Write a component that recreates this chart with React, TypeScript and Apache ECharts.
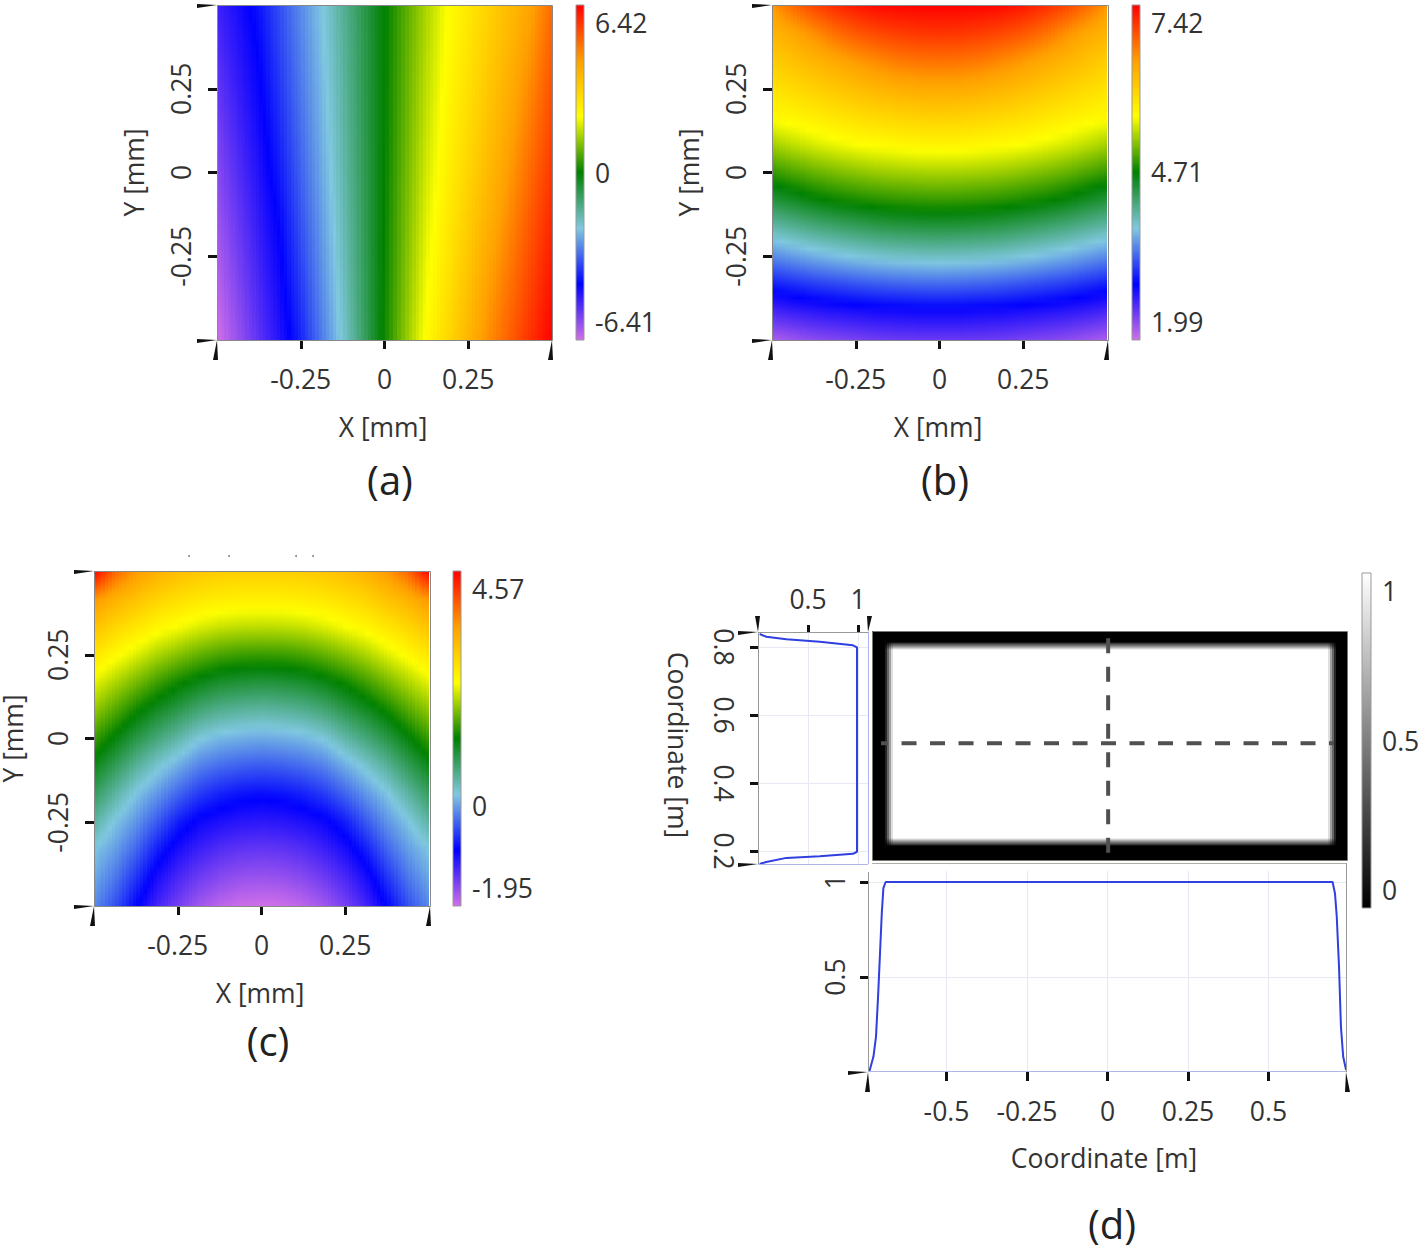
import React, { useEffect, useRef } from "react";
import * as echarts from "echarts";

const FONT = "Open Sans";
const TEXT = "#333333";

const rainbowStops = ["#d070e8", "#0000ff", "#80c8e0", "#008000", "#ffff00", "#ffa000", "#ff0000"];
const greyStops = ["#000000", "#ffffff"];

const tickLabelsAB = [-0.25, 0, 0.25];

// Panel (a): values (rows top to bottom, columns left to right)
const aX = [-0.5, -0.4375, -0.375, -0.3125, -0.25, -0.1875, -0.125, -0.0625, 0, 0.0625, 0.125, 0.1875, 0.25, 0.3125, 0.375, 0.4375, 0.5];
const aY = [0.5, 0.375, 0.25, 0.125, 0, -0.125, -0.25, -0.375, -0.5];
const aValues = [
  [-4.9, -4.52, -4.06, -3.42, -2.78, -2.14, -1.43, -0.71, 0, 0.72, 1.45, 2.14, 2.66, 3.17, 3.69, 4.21, 5.0],
  [-5.09, -4.66, -4.21, -3.54, -2.88, -2.21, -1.48, -0.73, 0.01, 0.77, 1.52, 2.21, 2.75, 3.29, 3.83, 4.42, 5.18],
  [-5.28, -4.81, -4.34, -3.68, -2.98, -2.29, -1.53, -0.75, 0.03, 0.81, 1.6, 2.29, 2.86, 3.43, 4.0, 4.64, 5.36],
  [-5.47, -4.97, -4.46, -3.82, -3.1, -2.37, -1.59, -0.77, 0.04, 0.86, 1.68, 2.38, 2.97, 3.57, 4.17, 4.84, 5.53],
  [-5.66, -5.13, -4.6, -3.98, -3.22, -2.46, -1.65, -0.79, 0.06, 0.92, 1.77, 2.47, 3.1, 3.74, 4.38, 5.04, 5.71],
  [-5.84, -5.29, -4.74, -4.16, -3.36, -2.57, -1.72, -0.82, 0.08, 0.98, 1.87, 2.58, 3.25, 3.92, 4.58, 5.24, 5.89],
  [-6.03, -5.46, -4.89, -4.32, -3.51, -2.68, -1.8, -0.85, 0.1, 1.04, 1.98, 2.7, 3.41, 4.13, 4.78, 5.43, 6.07],
  [-6.22, -5.63, -5.05, -4.46, -3.68, -2.8, -1.89, -0.88, 0.12, 1.11, 2.1, 2.84, 3.6, 4.35, 4.98, 5.61, 6.24],
  [-6.41, -5.81, -5.21, -4.61, -3.87, -2.94, -1.99, -0.92, 0.15, 1.19, 2.22, 3.0, 3.81, 4.55, 5.17, 5.8, 6.42],
];

// Panels (b) and (c) share these sampling positions
const bcX = aX;
const bcY = [0.5, 0.4167, 0.3333, 0.25, 0.1667, 0.0833, 0, -0.0833, -0.1667, -0.25, -0.3333, -0.4167, -0.5];
const bValues = [
  [6.57, 6.84, 7.04, 7.19, 7.3, 7.38, 7.4, 7.41, 7.42, 7.41, 7.4, 7.38, 7.3, 7.19, 7.04, 6.84, 6.57],
  [6.32, 6.45, 6.62, 6.8, 6.93, 7.02, 7.08, 7.12, 7.13, 7.12, 7.08, 7.02, 6.93, 6.8, 6.62, 6.45, 6.32],
  [6.09, 6.2, 6.32, 6.43, 6.55, 6.65, 6.73, 6.77, 6.78, 6.77, 6.73, 6.65, 6.55, 6.43, 6.32, 6.2, 6.09],
  [5.87, 5.96, 6.05, 6.14, 6.23, 6.31, 6.37, 6.41, 6.42, 6.41, 6.37, 6.31, 6.23, 6.14, 6.05, 5.96, 5.87],
  [5.65, 5.71, 5.78, 5.85, 5.92, 5.98, 6.02, 6.05, 6.06, 6.05, 6.02, 5.98, 5.92, 5.85, 5.78, 5.71, 5.65],
  [5.28, 5.38, 5.47, 5.54, 5.6, 5.64, 5.67, 5.7, 5.7, 5.7, 5.67, 5.64, 5.6, 5.54, 5.47, 5.38, 5.28],
  [4.88, 4.97, 5.06, 5.13, 5.19, 5.24, 5.27, 5.29, 5.3, 5.29, 5.27, 5.24, 5.19, 5.13, 5.06, 4.97, 4.88],
  [4.46, 4.56, 4.66, 4.74, 4.79, 4.84, 4.87, 4.89, 4.9, 4.89, 4.87, 4.84, 4.79, 4.74, 4.66, 4.56, 4.46],
  [4.0, 4.09, 4.18, 4.25, 4.31, 4.37, 4.4, 4.42, 4.43, 4.42, 4.4, 4.37, 4.31, 4.25, 4.18, 4.09, 4.0],
  [3.52, 3.61, 3.69, 3.76, 3.82, 3.87, 3.9, 3.92, 3.93, 3.92, 3.9, 3.87, 3.82, 3.76, 3.69, 3.61, 3.52],
  [3.03, 3.1, 3.17, 3.22, 3.27, 3.31, 3.34, 3.36, 3.37, 3.36, 3.34, 3.31, 3.27, 3.22, 3.17, 3.1, 3.03],
  [2.58, 2.65, 2.7, 2.74, 2.77, 2.8, 2.81, 2.83, 2.83, 2.83, 2.81, 2.8, 2.77, 2.74, 2.7, 2.65, 2.58],
  [2.15, 2.22, 2.29, 2.33, 2.37, 2.41, 2.43, 2.44, 2.44, 2.44, 2.43, 2.41, 2.37, 2.33, 2.29, 2.22, 2.15],
];
const cValues = [
  [4.57, 3.89, 3.53, 3.3, 3.15, 3.05, 2.98, 2.95, 2.94, 2.95, 2.98, 3.05, 3.15, 3.3, 3.53, 3.89, 4.57],
  [3.56, 3.29, 3.1, 2.9, 2.77, 2.67, 2.61, 2.58, 2.58, 2.58, 2.61, 2.67, 2.77, 2.9, 3.1, 3.29, 3.56],
  [3.1, 2.87, 2.68, 2.5, 2.38, 2.25, 2.16, 2.12, 2.11, 2.12, 2.16, 2.25, 2.38, 2.5, 2.68, 2.87, 3.1],
  [2.68, 2.46, 2.25, 2.04, 1.87, 1.72, 1.61, 1.55, 1.54, 1.55, 1.61, 1.72, 1.87, 2.04, 2.25, 2.46, 2.68],
  [2.28, 2.04, 1.8, 1.56, 1.36, 1.2, 1.08, 1.03, 1.0, 1.03, 1.08, 1.2, 1.36, 1.56, 1.8, 2.04, 2.28],
  [1.92, 1.65, 1.36, 1.13, 0.93, 0.73, 0.6, 0.54, 0.51, 0.54, 0.6, 0.73, 0.93, 1.13, 1.36, 1.65, 1.92],
  [1.55, 1.25, 0.96, 0.71, 0.49, 0.24, 0.12, 0.07, 0.04, 0.07, 0.12, 0.24, 0.49, 0.71, 0.96, 1.25, 1.55],
  [1.19, 0.89, 0.57, 0.3, 0.07, -0.16, -0.28, -0.35, -0.38, -0.35, -0.28, -0.16, 0.07, 0.3, 0.57, 0.89, 1.19],
  [0.86, 0.53, 0.2, -0.05, -0.32, -0.55, -0.69, -0.77, -0.8, -0.77, -0.69, -0.55, -0.32, -0.05, 0.2, 0.53, 0.86],
  [0.53, 0.2, -0.06, -0.38, -0.71, -0.92, -1.02, -1.08, -1.1, -1.08, -1.02, -0.92, -0.71, -0.38, -0.06, 0.2, 0.53],
  [0.21, -0.01, -0.32, -0.71, -1.0, -1.18, -1.3, -1.37, -1.39, -1.37, -1.3, -1.18, -1.0, -0.71, -0.32, -0.01, 0.21],
  [0.05, -0.22, -0.59, -0.99, -1.25, -1.44, -1.57, -1.65, -1.67, -1.65, -1.57, -1.44, -1.25, -0.99, -0.59, -0.22, 0.05],
  [-0.12, -0.43, -0.84, -1.21, -1.48, -1.7, -1.85, -1.93, -1.95, -1.93, -1.85, -1.7, -1.48, -1.21, -0.84, -0.43, -0.12],
];

// Panel (d): intensity map on unevenly spaced coordinates
const dX = [-0.731, -0.691, -0.685, -0.679, -0.672, -0.666, 0.002, 0.685, 0.691, 0.697, 0.704, 0.71, 0.744];
const dY = [0.847, 0.815, 0.809, 0.803, 0.797, 0.791, 0.518, 0.241, 0.235, 0.229, 0.224, 0.218, 0.176];
const dValues = [
  [0, 0, 0, 0, 0, 0, 0, 0, 0, 0, 0, 0, 0],
  [0, 0, 0, 0, 0, 0, 0, 0, 0, 0, 0, 0, 0],
  [0, 0, 0.09, 0.15, 0.23, 0.3, 0.3, 0.3, 0.23, 0.15, 0.09, 0, 0],
  [0, 0, 0.15, 0.25, 0.38, 0.5, 0.5, 0.5, 0.38, 0.25, 0.15, 0, 0],
  [0, 0, 0.23, 0.38, 0.56, 0.75, 0.75, 0.75, 0.56, 0.38, 0.23, 0, 0],
  [0, 0, 0.3, 0.5, 0.75, 1, 1, 1, 0.75, 0.5, 0.3, 0, 0],
  [0, 0, 0.3, 0.5, 0.75, 1, 1, 1, 0.75, 0.5, 0.3, 0, 0],
  [0, 0, 0.3, 0.5, 0.75, 1, 1, 1, 0.75, 0.5, 0.3, 0, 0],
  [0, 0, 0.23, 0.38, 0.56, 0.75, 0.75, 0.75, 0.56, 0.38, 0.23, 0, 0],
  [0, 0, 0.15, 0.25, 0.38, 0.5, 0.5, 0.5, 0.38, 0.25, 0.15, 0, 0],
  [0, 0, 0.09, 0.15, 0.23, 0.3, 0.3, 0.3, 0.23, 0.15, 0.09, 0, 0],
  [0, 0, 0, 0, 0, 0, 0, 0, 0, 0, 0, 0, 0],
  [0, 0, 0, 0, 0, 0, 0, 0, 0, 0, 0, 0, 0],
];
const dDashH = [[-0.7034, 0.518], [0.7034, 0.518]];
const dDashV = [[0.002, 0.826], [0.002, 0.197]];

// Side profile of (d): [level, coordinate]
const dLeftProfile = [
  [0.017, 0.838], [0.083, 0.83], [0.283, 0.823], [0.617, 0.815], [0.95, 0.805], [0.99, 0.799],
  [0.99, 0.198], [0.95, 0.192], [0.617, 0.185], [0.283, 0.18], [0.083, 0.168], [0.017, 0.162],
];
// Bottom profile of (d): [coordinate, level]
const dBottomProfile = [
  [-0.74, 0], [-0.727, 0.08], [-0.719, 0.185], [-0.712, 0.415], [-0.7065, 0.625], [-0.701, 0.836], [-0.696, 0.968], [-0.689, 1],
  [0, 1], [0.699, 1], [0.7065, 0.94], [0.712, 0.817], [0.719, 0.554], [0.725, 0.238], [0.732, 0.08], [0.741, 0.01],
];

const clamp01 = (t: number) => Math.max(0, Math.min(1, t));

function cellsOf(xs: number[], ys: number[], m: number[][]) {
  const out: number[][] = [];
  for (let r = 0; r < ys.length - 1; r++) {
    for (let c = 0; c < xs.length - 1; c++) {
      out.push([xs[c], ys[r], xs[c + 1], ys[r + 1], m[r][c], m[r][c + 1], m[r + 1][c], m[r + 1][c + 1]]);
    }
  }
  return out;
}

// Draws a cell from its four read corner values, with shading across the cell.
function fieldRenderer(colors: string[], min: number, max: number) {
  const colorOf = (v: number) => echarts.color.lerp(clamp01((v - min) / (max - min)), colors);
  return (_p: any, api: any) => {
    const p0 = api.coord([api.value(0), api.value(1)]);
    const p1 = api.coord([api.value(2), api.value(3)]);
    const left = Math.round(p0[0]);
    const right = Math.round(p1[0]);
    const top = Math.round(p0[1]);
    const bottom = Math.round(p1[1]);
    const a = api.value(4), b = api.value(5), c = api.value(6), d = api.value(7);
    if (a === b && b === c && c === d) {
      return { type: "rect", shape: { x: left, y: top, width: right - left, height: bottom - top }, style: { fill: colorOf(a) } };
    }
    const n = Math.min(24, Math.max(1, Math.ceil((right - left) / 4)));
    const children: any[] = [];
    for (let i = 0; i < n; i++) {
      const x0 = Math.round(left + ((right - left) * i) / n);
      const x1 = Math.round(left + ((right - left) * (i + 1)) / n);
      const f = (i + 0.5) / n;
      const t0 = a + (b - a) * f;
      const t1 = c + (d - c) * f;
      const stops = [0, 0.25, 0.5, 0.75, 1].map((o) => ({ offset: o, color: colorOf(t0 + (t1 - t0) * o) }));
      children.push({
        type: "rect",
        shape: { x: x0, y: top, width: x1 - x0, height: bottom - top },
        style: { fill: new echarts.graphic.LinearGradient(0, 0, 0, 1, stops) },
      });
    }
    return { type: "group", children };
  };
}

function barRenderer(colors: string[]) {
  return (_p: any, api: any) => {
    const p0 = api.coord([0, api.value(1)]);
    const p1 = api.coord([1, api.value(0)]);
    const stops = colors.map((c, i) => ({ offset: 1 - i / (colors.length - 1), color: c })).reverse();
    return {
      type: "rect",
      shape: { x: p0[0], y: p0[1], width: p1[0] - p0[0], height: p1[1] - p0[1] },
      style: { fill: new echarts.graphic.LinearGradient(0, 0, 0, 1, stops), stroke: "#999999", lineWidth: 1 },
    };
  };
}

const labelStyle = { color: TEXT, fontFamily: FONT, fontSize: 26.5 };
const nameStyle = { color: TEXT, fontFamily: FONT, fontSize: 26.5 };
const tick = (values: number[], length = 9) => ({ show: true, length, customValues: values, lineStyle: { color: "#111111", width: 3 } });
const noLine = { show: false, onZero: false };

const wedgeH = (x: number, y: number) => ({ type: "polygon", z: 50, shape: { points: [[x - 20, y - 1], [x, y], [x - 20, y + 3]] }, style: { fill: "#111111" } });
const wedgeV = (x: number, y: number, tilt = 0) => ({ type: "polygon", z: 50, shape: { points: [[x + tilt - 4, y + 20], [x, y], [x + tilt + 1, y + 20]] }, style: { fill: "#111111" } });
const box = (x: number, y: number, w: number, h: number, stroke = "#888888") => ({ type: "rect", z: 40, shape: { x: x + 0.5, y: y + 0.5, width: w, height: h }, style: { fill: "none", stroke, lineWidth: 1 } });
const hline = (x1: number, x2: number, y: number, stroke: string) => ({ type: "line", z: 40, shape: { x1, y1: y + 0.5, x2, y2: y + 0.5 }, style: { stroke, lineWidth: 1 } });
const vline = (x: number, y1: number, y2: number, stroke: string) => ({ type: "line", z: 40, shape: { x1: x + 0.5, y1, x2: x + 0.5, y2 }, style: { stroke, lineWidth: 1 } });
const caption = (text: string, x: number, y: number) => ({ type: "text", z: 60, x, y, style: { text, fill: "#222222", font: `40px "${FONT}"`, lineHeight: 38, textAlign: "center", textVerticalAlign: "middle" } });
const dot = (x: number, y: number) => ({ type: "circle", z: 60, shape: { cx: x, cy: y, r: 1 }, style: { fill: "#888888" } });

function barAxisFormatter(min: number, max: number) {
  return (v: number) => (v === max ? `{t|${v}}` : v === min ? `{b|${v}}` : `${v}`);
}
const barRich = {
  t: { ...labelStyle, padding: [36, 0, 0, 0] },
  b: { ...labelStyle, padding: [0, 0, 36, 0] },
};

export default function App() {
  const ref = useRef<HTMLDivElement>(null);
  useEffect(() => {
    const chart = echarts.init(ref.current!, undefined, { renderer: "svg" });

    const grid: any[] = [];
    const xAxis: any[] = [];
    const yAxis: any[] = [];
    const series: any[] = [];
    const addGrid = (left: number, top: number, width: number, height: number) => {
      grid.push({ left, top, width, height, outerBoundsMode: "none", containLabel: false });
      return grid.length - 1;
    };

    const addPanel = (left: number, top: number, xs: number[], ys: number[], m: number[][], min: number, max: number, mid: number, barLeft: number, yNameGap = 70) => {
      const gi = addGrid(left, top, 335, 335);
      xAxis.push({
        gridIndex: gi, type: "value", min: -0.5, max: 0.5,
        name: "X [mm]", nameLocation: "middle", nameGap: 73, nameTextStyle: { ...nameStyle, padding: [0, 3, 0, 0] },
        axisLine: noLine, splitLine: { show: false }, axisTick: tick(tickLabelsAB),
        axisLabel: { ...labelStyle, margin: 25, customValues: tickLabelsAB, hideOverlap: false },
      });
      yAxis.push({
        gridIndex: gi, type: "value", min: -0.5, max: 0.5,
        name: "Y [mm]", nameLocation: "middle", nameGap: yNameGap, nameRotate: 90, nameTextStyle: nameStyle,
        axisLine: noLine, splitLine: { show: false }, axisTick: tick(tickLabelsAB),
        axisLabel: { ...labelStyle, margin: 23, rotate: 90, customValues: tickLabelsAB },
      });
      series.push({
        type: "custom", xAxisIndex: gi, yAxisIndex: gi, silent: true,
        renderItem: fieldRenderer(rainbowStops, min, max),
        data: cellsOf(xs, ys, m), encode: { x: [0, 2], y: [1, 3] },
      });
      const bi = addGrid(barLeft, top, 8, 335);
      xAxis.push({ gridIndex: bi, type: "value", min: 0, max: 1, show: false, axisLine: noLine });
      const labels = [min, mid, max];
      yAxis.push({
        gridIndex: bi, type: "value", min, max, position: "right",
        axisLine: noLine, axisTick: { show: false }, splitLine: { show: false },
        axisLabel: { ...labelStyle, margin: 11, customValues: labels, formatter: barAxisFormatter(min, max), rich: barRich },
      });
      series.push({
        type: "custom", xAxisIndex: bi, yAxisIndex: bi, silent: true,
        renderItem: barRenderer(rainbowStops), data: [[min, max]], encode: { y: [0, 1] },
      });
    };

    addPanel(217, 5, aX, aY, aValues, -6.41, 6.42, 0, 576);
    addPanel(772, 5, bcX, bcY, bValues, 1.99, 7.42, 4.71, 1132);
    addPanel(94, 571, bcX, bcY, cValues, -1.95, 4.57, 0, 453, 68);

    // (d) map
    const hi = addGrid(872, 631, 475, 229);
    xAxis.push({ gridIndex: hi, type: "value", min: -0.7314, max: 0.7438, show: false, axisLine: noLine });
    yAxis.push({ gridIndex: hi, type: "value", min: 0.176, max: 0.847, show: false, axisLine: noLine });
    series.push({
      type: "custom", xAxisIndex: hi, yAxisIndex: hi, silent: true,
      renderItem: fieldRenderer(greyStops, 0, 1), data: cellsOf(dX, dY, dValues), encode: { x: [0, 2], y: [1, 3] },
    });
    const dash = { color: "#505050", width: 4, type: [15, 13.5], dashOffset: 8 };
    series.push({ type: "line", xAxisIndex: hi, yAxisIndex: hi, data: dDashH, symbol: "none", lineStyle: dash, silent: true, z: 5 });
    series.push({ type: "line", xAxisIndex: hi, yAxisIndex: hi, data: dDashV, symbol: "none", lineStyle: { ...dash, dashOffset: 0 }, silent: true, z: 5 });

    // (d) side profile
    const gridLine = { show: true, lineStyle: { color: "#e8e8f4", width: 1 } };
    const si = addGrid(758, 632, 110, 232);
    xAxis.push({
      gridIndex: si, type: "value", min: 0, max: 1.1, position: "top",
      axisLine: noLine, axisTick: tick([0.5, 1], 7),
      splitLine: { ...gridLine, customValues: [0.5, 1] },
      axisLabel: { ...labelStyle, margin: 20, customValues: [0.5, 1] },
    });
    yAxis.push({
      gridIndex: si, type: "value", min: 0.162, max: 0.844,
      name: "Coordinate [m]", nameLocation: "middle", nameGap: 67, nameRotate: -90, nameTextStyle: { ...nameStyle, padding: [0, 6, 0, 0] },
      axisLine: noLine, axisTick: tick([0.2, 0.4, 0.6, 0.8], 8),
      splitLine: { ...gridLine, customValues: [0.2, 0.4, 0.6, 0.8] },
      axisLabel: { ...labelStyle, margin: 21, rotate: -90, customValues: [0.2, 0.4, 0.6, 0.8] },
    });
    series.push({ type: "line", xAxisIndex: si, yAxisIndex: si, data: dLeftProfile, symbol: "none", lineStyle: { color: "#2f3fe0", width: 2 }, silent: true });

    // (d) bottom profile
    const bi = addGrid(868, 871, 478, 201);
    const ticksX = [-0.5, -0.25, 0, 0.25, 0.5];
    xAxis.push({
      gridIndex: bi, type: "value", min: -0.7438, max: 0.7407,
      name: "Coordinate [m]", nameLocation: "middle", nameGap: 72, nameTextStyle: { ...nameStyle, padding: [0, 6, 0, 0] },
      axisLine: noLine, axisTick: tick(ticksX, 9),
      splitLine: { ...gridLine, customValues: ticksX },
      axisLabel: { ...labelStyle, margin: 25, customValues: ticksX },
    });
    yAxis.push({
      gridIndex: bi, type: "value", min: 0, max: 1.058,
      axisLine: noLine, axisTick: tick([0.5, 1], 8),
      splitLine: { ...gridLine, customValues: [0.5, 1] },
      axisLabel: { ...labelStyle, margin: 20, rotate: 90, customValues: [0.5, 1] },
    });
    series.push({ type: "line", xAxisIndex: bi, yAxisIndex: bi, data: dBottomProfile, symbol: "none", lineStyle: { color: "#2f3fe0", width: 2 }, silent: true });

    // (d) colour bar
    const ci = addGrid(1362, 573, 9, 335);
    xAxis.push({ gridIndex: ci, type: "value", min: 0, max: 1, show: false, axisLine: noLine });
    yAxis.push({
      gridIndex: ci, type: "value", min: 0, max: 1, position: "right",
      axisLine: noLine, axisTick: { show: false }, splitLine: { show: false },
      axisLabel: { ...labelStyle, margin: 11, customValues: [0, 0.5, 1], formatter: barAxisFormatter(0, 1), rich: barRich },
    });
    series.push({ type: "custom", xAxisIndex: ci, yAxisIndex: ci, silent: true, renderItem: barRenderer(greyStops), data: [[0, 1]], encode: { y: [0, 1] } });

    const elements: any[] = [
      box(217, 5, 335, 335), wedgeH(217, 5), wedgeH(217, 340), wedgeV(217, 340), wedgeV(552, 340),
      box(772, 5, 336, 335), wedgeH(772, 5), wedgeH(772, 340), wedgeV(772, 340), wedgeV(1108, 340),
      box(94, 571, 336, 335), wedgeH(94, 571), wedgeH(94, 906), wedgeV(94, 906), wedgeV(430, 906),
      dot(189, 556), dot(229, 556), dot(296, 556), dot(313, 556),
      box(872, 631, 475, 229, "#777777"),
      hline(758, 868, 632, "#999999"), vline(758, 632, 864, "#999999"),
      vline(868, 632, 864, "#aeb6ea"), hline(758, 868, 864, "#aeb6ea"),
      wedgeH(758, 632), wedgeH(758, 864),
      { type: "polygon", z: 50, shape: { points: [[755, 616], [758, 632], [760, 616]] }, style: { fill: "#111111" } },
      { type: "polygon", z: 50, shape: { points: [[867, 616], [868, 632], [872, 616]] }, style: { fill: "#111111" } },
      hline(872, 1346, 863, "#b0b0a8"), vline(868, 872, 1072, "#999999"), vline(1346, 863, 1072, "#999999"),
      hline(868, 1346, 1071, "#aeb6ea"),
      wedgeH(868, 1072), wedgeV(868, 1072, 1), wedgeV(1346, 1072, 3),
      caption("(a)", 390, 479), caption("(b)", 945, 479), caption("(c)", 268, 1040), caption("(d)", 1112, 1223),
    ];

    chart.setOption({
      animation: false,
      backgroundColor: "#ffffff",
      grid, xAxis, yAxis, series,
      graphic: { elements },
    });
    return () => chart.dispose();
  }, []);
  return <div ref={ref} style={{ position: "absolute", left: 0, top: 0, width: 1418, height: 1247 }} />;
}
